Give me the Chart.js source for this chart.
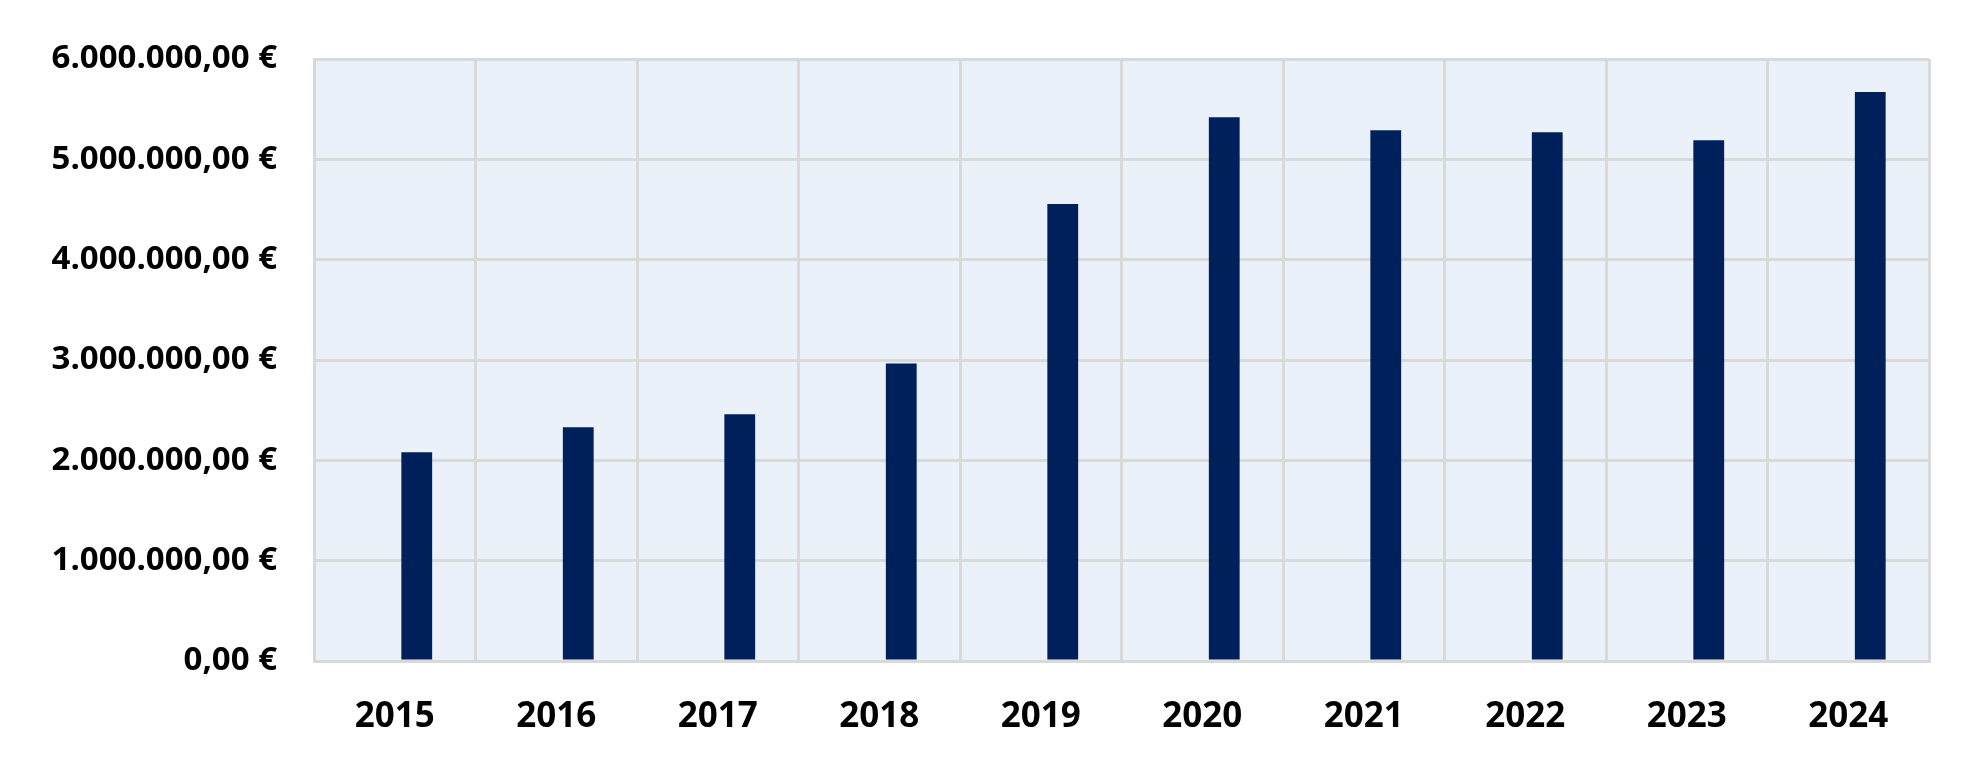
<!DOCTYPE html>
<html>
<head>
<meta charset="utf-8">
<script src="https://cdn.jsdelivr.net/npm/chart.js@4.4.1/dist/chart.umd.min.js"></script>
<style>
    html, body { margin: 0; padding: 0; background: #fff; }
    #wrap { width: 1981px; height: 774px; position: relative; }
</style>
</head>
<body>
<div id="wrap"><canvas id="salesChart"></canvas></div>
<script>
(function () {
    'use strict';

    // ─── Data ────────────────────────────────────────────────────────────────
    const years   = ['2015', '2016', '2017', '2018', '2019', '2020', '2021', '2022', '2023', '2024'];
    const amounts = [2080000, 2330000, 2460000, 2965000, 4555000, 5420000, 5290000, 5270000, 5190000, 5670000];
    const emptySeries = years.map(() => null); // first (empty) group slot, bars sit right of center
    const yTickValues = [0, 1000000, 2000000, 3000000, 4000000, 5000000, 6000000];
    const yTickLabels = ['0,00 €', '1.000.000,00 €', '2.000.000,00 €', '3.000.000,00 €',
                         '4.000.000,00 €', '5.000.000,00 €', '6.000.000,00 €'];

    const FAMILY = '"Open Sans", "Noto Sans", sans-serif';
    const GRID = '#d9d9d9';

    // plot background
    const plotBg = {
        id: 'plotBg',
        beforeDraw(chart) {
            const a = chart.chartArea, c = chart.ctx;
            c.save();
            c.fillStyle = '#eaf1f9';
            c.fillRect(a.left, a.top, a.right - a.left, a.bottom - a.top);
            c.restore();
        }
    };

    new Chart(document.getElementById('salesChart'), {
        type: 'bar',
        data: {
            labels: years,
            datasets: [
                { data: emptySeries, backgroundColor: 'rgba(0,0,0,0)' },
                { data: amounts, backgroundColor: '#00205b', borderWidth: 0 }
            ]
        },
        options: {
            responsive: true,
            maintainAspectRatio: false,
            animation: false,
            categoryPercentage: 0.545,
            barPercentage: 0.70,
            layout: { padding: { top: 59, right: 52, bottom: 0, left: 0 } },
            plugins: { legend: { display: false }, tooltip: { enabled: false } },
            scales: {
                x: {
                    grid: { color: GRID, lineWidth: 3, drawTicks: false },
                    border: { color: GRID, width: 3 },
                    ticks: { color: '#000', font: { family: FAMILY, size: 35, weight: 'bold' }, padding: 35, maxRotation: 0 },
                    afterFit(s) { s.height = 113; }
                },
                y: {
                    min: 0,
                    max: 6000000,
                    grid: { color: GRID, lineWidth: 3, drawTicks: false },
                    border: { color: GRID, width: 3 },
                    afterBuildTicks(s) { s.ticks = yTickValues.map(v => ({ value: v })); },
                    ticks: {
                        color: '#000',
                        font: { family: FAMILY, size: 33, weight: 'bold' },
                        padding: 37,
                        callback: (v, i) => yTickLabels[i]
                    },
                    afterFit(s) { s.width = 314; }
                }
            }
        },
        plugins: [plotBg]
    });
})();
</script>
</body>
</html>
